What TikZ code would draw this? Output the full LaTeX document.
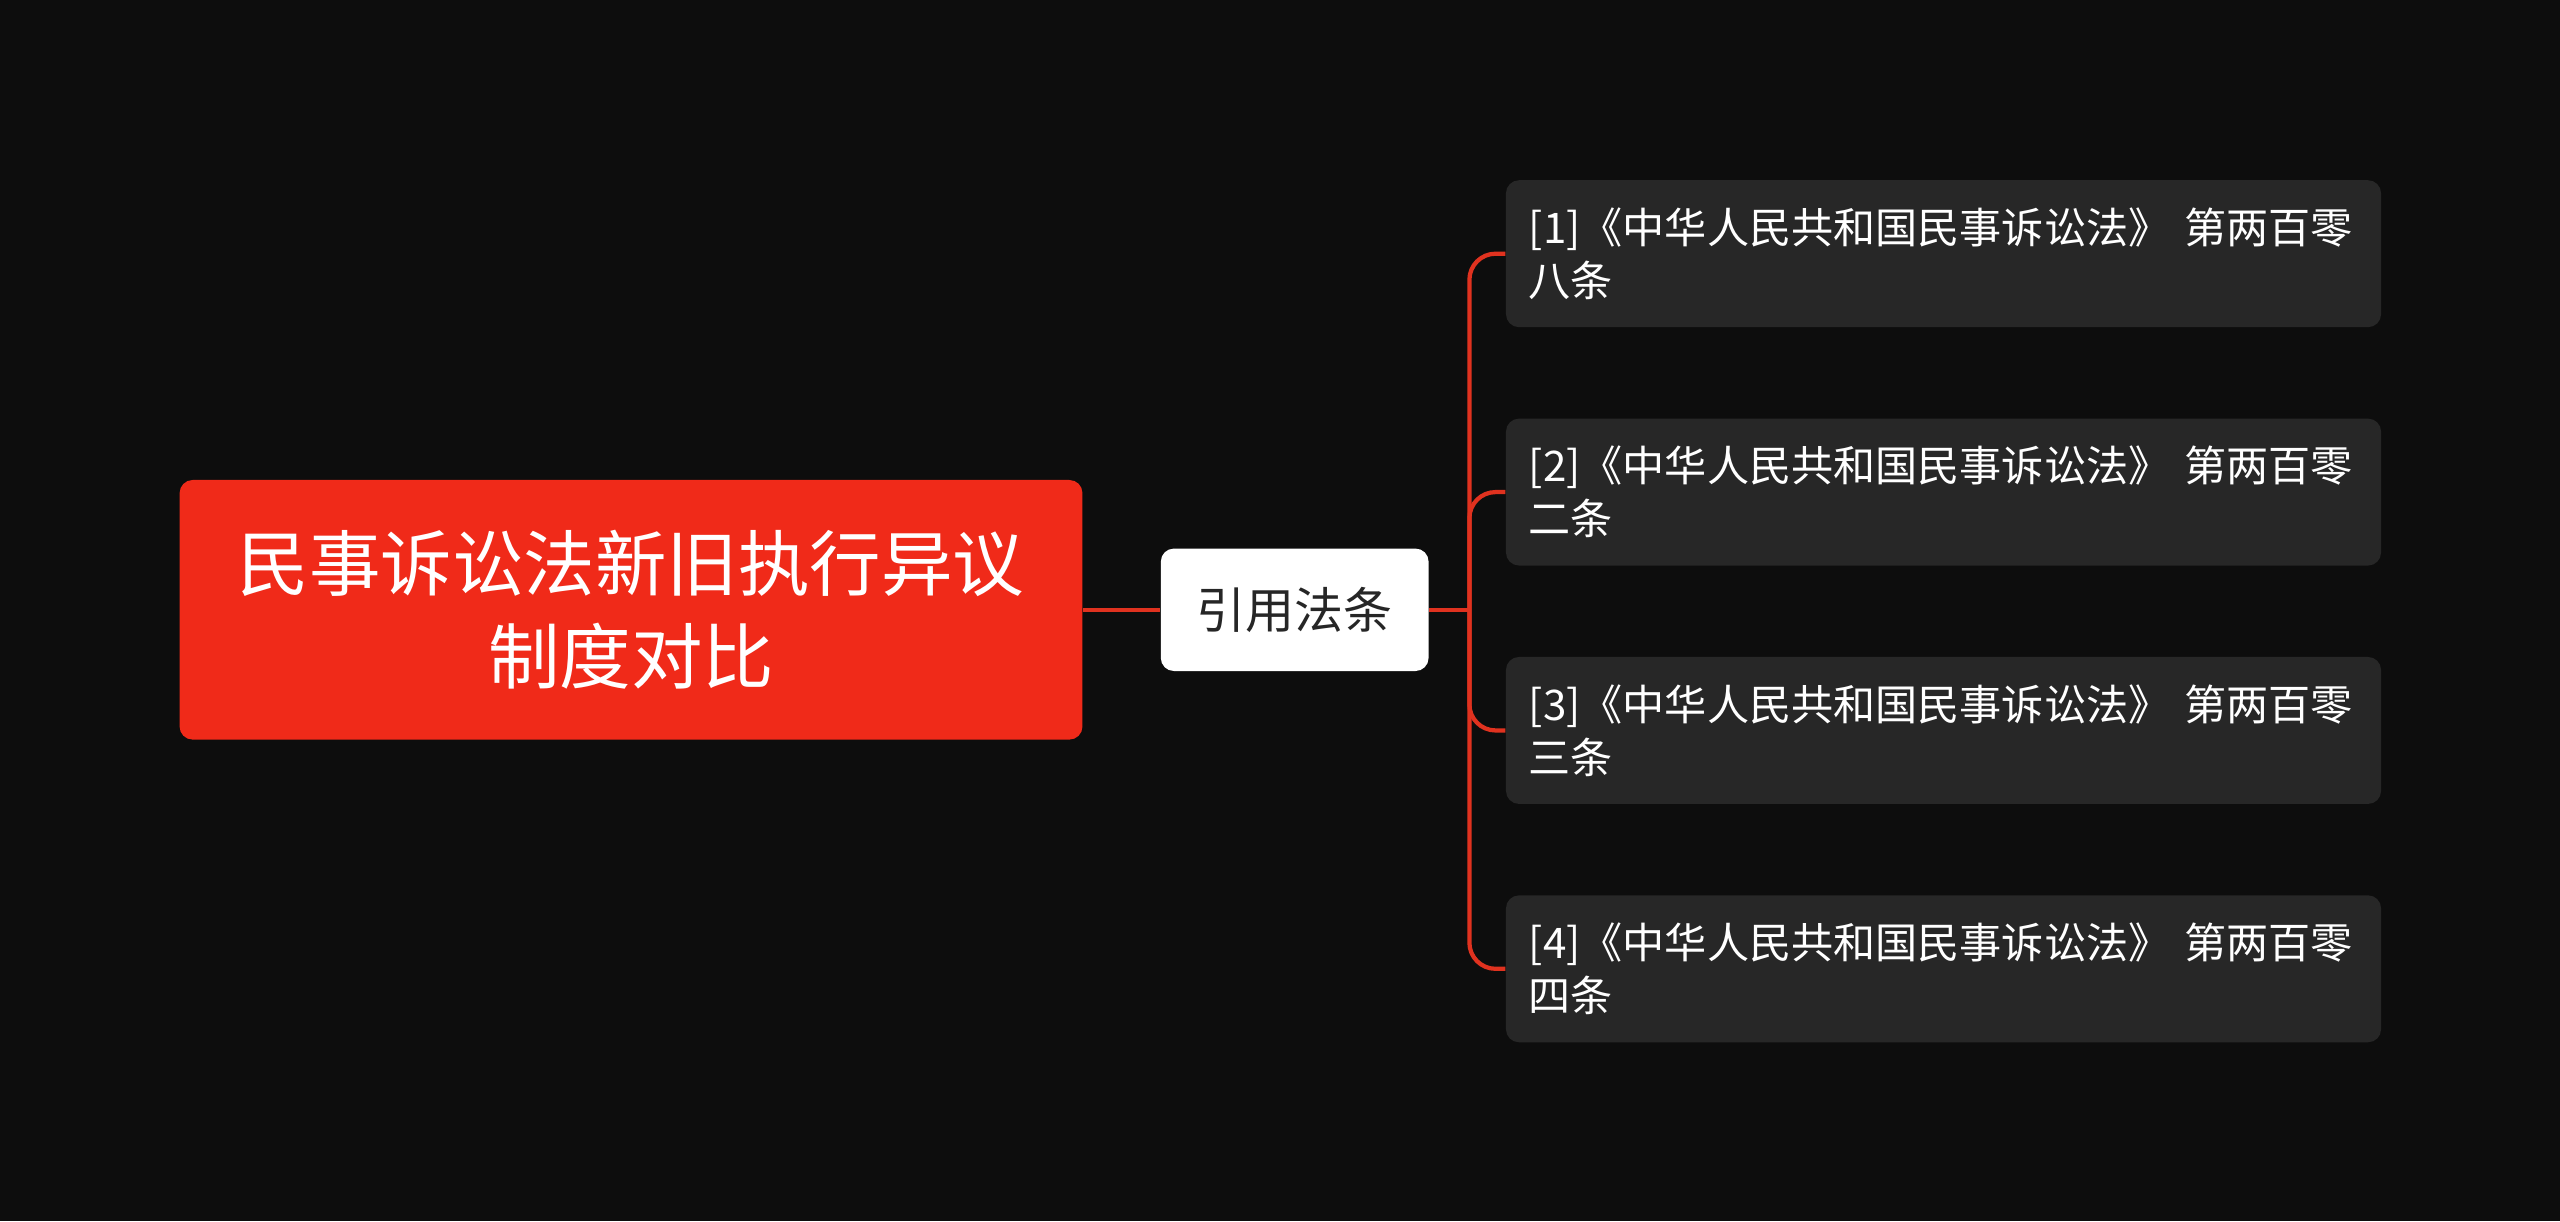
\documentclass[tikz,border=0pt]{standalone}
\usepackage{fontspec}
\setmainfont{Noto Sans CJK SC}
\begin{document}
\begin{tikzpicture}[x=0.5pt,y=-0.5pt,
  leaf/.style={fill=leafc,rounded corners=4pt,text=white,font=\fontsize{12.9}{16.2}\selectfont,align=left,anchor=north west,inner xsep=7pt,inner ysep=0pt,minimum width=268pt,minimum height=45pt,text width=254pt},
  conn/.style={draw=linec,line width=1.3pt}]
\definecolor{bg}{HTML}{0D0D0D}
\definecolor{rootc}{HTML}{F02A19}
\definecolor{leafc}{HTML}{272727}
\definecolor{linec}{HTML}{E0321F}
\fill[bg] (0,0) rectangle (1568,748);
\useasboundingbox (0,0) rectangle (1568,748);
\node[fill=rootc,rounded corners=4pt,text=white,font=\fontsize{21.9}{28.5}\selectfont,align=center,minimum width=276.5pt,minimum height=79.5pt,inner sep=0pt] (root) at (386.5,373.5) {民事诉讼法新旧执行异议\\制度对比};
\node[fill=white,rounded corners=4pt,text=black!85,font=\fontsize{15}{18}\selectfont,minimum width=82pt,minimum height=37.5pt,inner sep=0pt] (mid) at (793,373.5) {引用法条};
\node[leaf] (c1) at (922,110) {[1]《中华人民共和国民事诉讼法》 第两百零\\八条};
\node[leaf] (c2) at (922,256) {[2]《中华人民共和国民事诉讼法》 第两百零\\二条};
\node[leaf] (c3) at (922,402) {[3]《中华人民共和国民事诉讼法》 第两百零\\三条};
\node[leaf] (c4) at (922,548) {[4]《中华人民共和国民事诉讼法》 第两百零\\四条};
\draw[conn] (root.east) -- (mid.west);
\coordinate (j) at (900,373.5);
\draw[conn] (mid.east) -- (j);
\foreach \c in {c1,c2,c3,c4}{
  \draw[conn,rounded corners=8pt] (j) -- (j |- \c.west) -- (\c.west);
}
\end{tikzpicture}
\end{document}
